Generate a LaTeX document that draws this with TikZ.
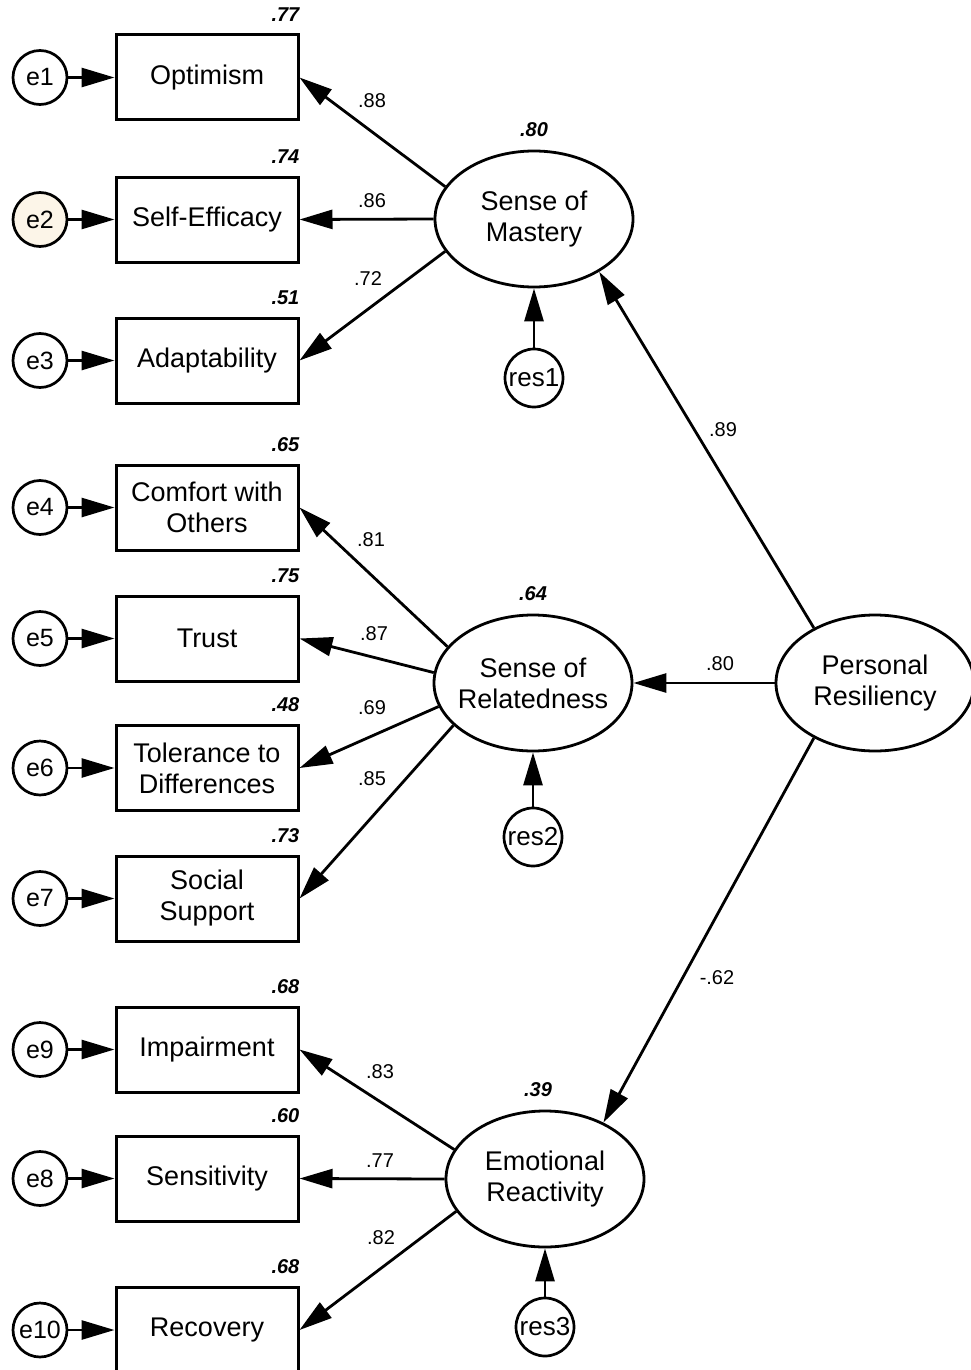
\documentclass[tikz,border=0pt]{standalone}
\usepackage{fontspec}
\setmainfont{Liberation Sans}
\usetikzlibrary{arrows.meta,positioning,shapes.geometric}

\definecolor{errcream}{RGB}{252,245,232}

\begin{document}
\begin{tikzpicture}[x=1pt, y=-1pt,
  font=\fontsize{27}{31}\selectfont,
  >={Triangle[length=33pt,width=19pt]},
  obsbox/.style={draw, line width=3pt, minimum width=182pt, minimum height=85pt, inner sep=0pt, align=center},
  errcirc/.style={draw, circle, line width=2.7pt, minimum size=54pt, inner sep=0pt, font=\fontsize{25}{30}\selectfont},
  rescirc/.style={draw, circle, line width=2.7pt, minimum size=58pt, inner sep=0pt, font=\fontsize{26}{30}\selectfont},
  latent/.style={draw, ellipse, line width=2.8pt, minimum width=198pt, minimum height=136pt, inner xsep=-6pt, inner ysep=0pt, align=center},
  rsq/.style={inner sep=0pt, font=\fontsize{20}{24}\selectfont\bfseries\itshape},
  coef/.style={inner sep=0pt, font=\fontsize{20}{24}\selectfont},
  path/.style={->, line width=2.8pt}]

\useasboundingbox (0,0) rectangle (971,1370);

% observed indicators
\node[obsbox] (opt) at (207,77.5) {Optimism};
\node[obsbox] (selfeff) at (207,219.5) {Self-Efficacy};
\node[obsbox] (adapt) at (207,360.5) {Adaptability};
\node[obsbox] (comfort) at (207,507.5) {Comfort with\\Others};
\node[obsbox] (trust) at (207,638.5) {Trust};
\node[obsbox] (toler) at (207,768) {Tolerance to\\Differences};
\node[obsbox] (social) at (207,898.5) {Social\\Support};
\node[obsbox] (impair) at (207,1049.5) {Impairment};
\node[obsbox] (sensit) at (207,1178.5) {Sensitivity};
\node[obsbox] (recov) at (207,1330) {Recovery};

% error terms
\node[errcirc] (e1) at (40,77.5) {e1};
\node[errcirc, fill=errcream] (e2) at (40,219.5) {e2};
\node[errcirc] (e3) at (40,360.5) {e3};
\node[errcirc] (e4) at (40,507.5) {e4};
\node[errcirc] (e5) at (40,638.5) {e5};
\node[errcirc] (e6) at (40,768) {e6};
\node[errcirc] (e7) at (40,898.5) {e7};
\node[errcirc] (e9) at (40,1049.5) {e9};
\node[errcirc] (e8) at (40,1178.5) {e8};
\node[errcirc] (e10) at (40,1330) {e10};

% latent factors
\node[latent] (sm) at (534,219) {Sense of\\Mastery};
\node[latent] (sr) at (533,683) {Sense of\\Relatedness};
\node[latent] (pr) at (875,683) {Personal\\Resiliency};
\node[latent] (er) at (545,1179) {Emotional\\Reactivity};

% residuals
\node[rescirc] (res1) at (534,378) {res1};
\node[rescirc] (res2) at (533,837) {res2};
\node[rescirc] (res3) at (545,1327) {res3};

% squared multiple correlations
\node[rsq, above left=12pt and 0pt of opt.north east] {.77};
\node[rsq, above left=12pt and 0pt of selfeff.north east] {.74};
\node[rsq, above left=12pt and 0pt of adapt.north east] {.51};
\node[rsq, above left=12pt and 0pt of comfort.north east] {.65};
\node[rsq, above left=12pt and 0pt of trust.north east] {.75};
\node[rsq, above left=12pt and 0pt of toler.north east] {.48};
\node[rsq, above left=12pt and 0pt of social.north east] {.73};
\node[rsq, above left=12pt and 0pt of impair.north east] {.68};
\node[rsq, above left=12pt and 0pt of sensit.north east] {.60};
\node[rsq, above left=12pt and 0pt of recov.north east] {.68};
\node[rsq, above=13pt of sm.north] {.80};
\node[rsq, above=13pt of sr.north] {.64};
\node[rsq, above=13pt of er.north, xshift=-7pt] {.39};

% error paths
\draw[path] (e1) -- (opt);
\draw[path] (e2) -- (selfeff);
\draw[path] (e3) -- (adapt);
\draw[path] (e4) -- (comfort);
\draw[path] (e5) -- (trust);
\draw[path] (e6) -- (toler);
\draw[path] (e7) -- (social);
\draw[path] (e9) -- (impair);
\draw[path] (e8) -- (sensit);
\draw[path] (e10) -- (recov);

% loadings
\draw[path] (sm.160) -- (opt.east);
\draw[path] (sm.west) -- (selfeff.east);
\draw[path] (sm.200) -- (adapt.east);
\draw[path] (sr.157) -- (comfort.east);
\draw[path] (sr.174) -- (trust.east);
\draw[path] (sr.194) -- (toler.east);
\draw[path] (sr.208) -- (social.east);
\draw[path] (er.162) -- (impair.east);
\draw[path] (er.west) -- (sensit.east);
\draw[path] (er.200) -- (recov.east);

% residual paths
\draw[path] (res1) -- (sm);
\draw[path] (res2) -- (sr);
\draw[path] (res3) -- (er);

% structural paths
\draw[path] (pr.138) -- (sm.-39);
\draw[path] (pr.west) -- (sr.east);
\draw[path] (pr.222) -- (er.44);

% coefficients
\node[coef] at (372,101) {.88};
\node[coef] at (372,201) {.86};
\node[coef] at (368,279) {.72};
\node[coef] at (371,540) {.81};
\node[coef] at (374,634) {.87};
\node[coef] at (372,708) {.69};
\node[coef] at (372,779) {.85};
\node[coef] at (380,1072) {.83};
\node[coef] at (380,1161) {.77};
\node[coef] at (381,1238) {.82};
\node[coef] at (723,430) {.89};
\node[coef] at (720,664) {.80};
\node[coef] at (717,978) {-.62};
\end{tikzpicture}
\end{document}
